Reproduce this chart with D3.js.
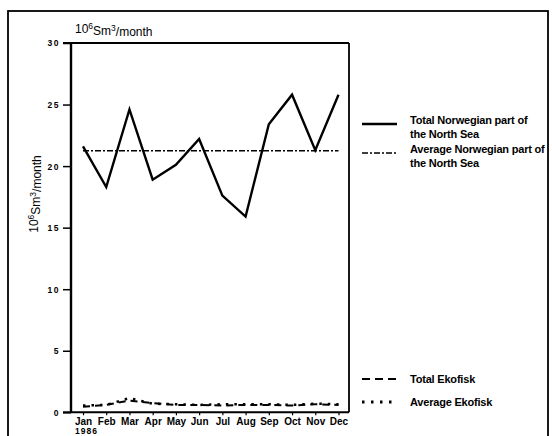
<!DOCTYPE html>
<html>
<head>
<meta charset="utf-8">
<script src="https://cdn.jsdelivr.net/npm/d3@7"></script>
<style>
  html, body { margin: 0; padding: 0; background: #fff; }
  svg { display: block; }
  text { font-family: "Liberation Sans", Arial, sans-serif; fill: #000; }
</style>
</head>
<body>
<svg id="chart" width="552" height="436"></svg>
<script>
// Monthly gas production, 1986 (10^6 Sm3 per month)
const months = ["Jan", "Feb", "Mar", "Apr", "May", "Jun", "Jul", "Aug", "Sep", "Oct", "Nov", "Dec"];
const totalNorway = [21.6, 18.3, 24.6, 18.9, 20.1, 22.2, 17.6, 15.9, 23.4, 25.8, 21.3, 25.8];
const averageNorway = 21.25;
const totalEkofisk = [0.45, 0.6, 0.95, 0.75, 0.6, 0.6, 0.55, 0.6, 0.6, 0.55, 0.65, 0.6];
const averageEkofisk = [0.55, 0.6, 1.15, 0.7, 0.65, 0.6, 0.65, 0.65, 0.65, 0.6, 0.7, 0.65];
const yTicks = [0, 5, 10, 15, 20, 25, 30];
const unitLabel = ["10", "6", "Sm", "3", "/month"];
const legendItems = [
  { lines: ["Total Norwegian part of", "the North Sea"], dash: null, width: 2.4 },
  { lines: ["Average Norwegian part of", "the North Sea"], dash: "6,2,2,2", width: 1.6 },
  { lines: ["Total Ekofisk"], dash: "8,5", width: 2 },
  { lines: ["Average Ekofisk"], dash: "2.5,6.5", width: 2.8 }
];

const svg = d3.select("#chart");

// outer frame
svg.append("rect").attr("x", 8).attr("y", 11).attr("width", 540).attr("height", 430)
  .attr("fill", "none").attr("stroke", "#000").attr("stroke-width", 1.8);

const plot = { left: 71, right: 349, top: 43, bottom: 412.3 };
const x = d3.scalePoint().domain(months).range([83, 338.5]);
const y = d3.scaleLinear().domain([0, 30]).range([plot.bottom, plot.top]);

// y axis
const yAxis = svg.append("g").attr("transform", `translate(${plot.left},0)`)
  .call(d3.axisLeft(y).tickValues(yTicks).tickSize(8).tickFormat(d3.format("d")));
yAxis.select(".domain").remove();
yAxis.selectAll(".tick line").attr("stroke-width", 1.5);
yAxis.selectAll(".tick text").attr("x", -11).attr("dy", "0.35em")
  .style("font-size", "8.5px").style("font-weight", "bold").style("letter-spacing", "1.5px");

// x axis
const xAxis = svg.append("g").attr("transform", `translate(0,${plot.bottom})`)
  .call(d3.axisBottom(x).tickSize(3));
xAxis.select(".domain").remove();
xAxis.selectAll(".tick line").attr("stroke-width", 1.2);
xAxis.selectAll(".tick text").attr("y", 6).attr("dy", "0.71em")
  .style("font-family", "'Liberation Sans Narrow', 'Liberation Sans', sans-serif")
  .style("font-size", "10px").style("font-weight", "bold");
svg.append("text").attr("x", x("Jan") - 8).attr("y", 434)
  .style("font-size", "8.5px").style("font-weight", "bold").style("letter-spacing", "1px")
  .text("1986");

// plot frame
const frame = svg.append("g").attr("fill", "none").attr("stroke", "#000");
frame.append("line").attr("x1", plot.left).attr("x2", plot.left).attr("y1", plot.top).attr("y2", plot.bottom).attr("stroke-width", 2.4);
frame.append("line").attr("x1", plot.left - 8).attr("x2", plot.right).attr("y1", plot.top).attr("y2", plot.top).attr("stroke-width", 1.8);
frame.append("line").attr("x1", plot.right).attr("x2", plot.right).attr("y1", plot.top).attr("y2", plot.bottom).attr("stroke-width", 1.8);
frame.append("line").attr("x1", plot.left - 8).attr("x2", plot.right).attr("y1", plot.bottom).attr("y2", plot.bottom).attr("stroke-width", 2);

// unit labels
function unitText(sel) {
  unitLabel.forEach((s, i) => {
    const t = sel.append("tspan").text(s);
    if (i % 2 === 1 && i < 4) t.attr("dy", "-0.45em").style("font-size", "8.5px");
    else if (i > 0) t.attr("dy", "0.45em");
  });
}
svg.append("text").attr("x", 75).attr("y", 33).style("font-size", "12px").call(unitText);
svg.append("text").attr("transform", "translate(38,194) rotate(-90)").attr("text-anchor", "middle")
  .style("font-size", "12px").call(unitText);

// series
const line = d3.line().x((d, i) => x(months[i])).y(d => y(d));
svg.append("path").datum(totalNorway).attr("d", line)
  .attr("fill", "none").attr("stroke", "#000").attr("stroke-width", 2.4).attr("stroke-linejoin", "miter");
svg.append("path").datum(months.map(() => averageNorway)).attr("d", line)
  .attr("fill", "none").attr("stroke", "#000").attr("stroke-width", 1.6).attr("stroke-dasharray", "6,2,2,2");
svg.append("path").datum(totalEkofisk).attr("d", line)
  .attr("fill", "none").attr("stroke", "#000").attr("stroke-width", 2).attr("stroke-dasharray", "7,5");
svg.append("path").datum(averageEkofisk).attr("d", line)
  .attr("fill", "none").attr("stroke", "#000").attr("stroke-width", 2.5).attr("stroke-dasharray", "2.5,6");

// legend
const legendY = [124, 153, 379, 402];
const legendTextY = [[124, 138], [153, 167], [383], [406]];
legendItems.forEach((item, i) => {
  svg.append("line").attr("x1", 362).attr("x2", 397).attr("y1", legendY[i]).attr("y2", legendY[i])
    .attr("stroke", "#000").attr("stroke-width", item.width)
    .attr("stroke-dasharray", item.dash);
  item.lines.forEach((l, j) => {
    svg.append("text").attr("x", 410).attr("y", legendTextY[i][j])
      .style("font-size", "11px").style("font-weight", "bold").style("letter-spacing", "-0.2px")
      .text(l);
  });
});
</script>
</body>
</html>
